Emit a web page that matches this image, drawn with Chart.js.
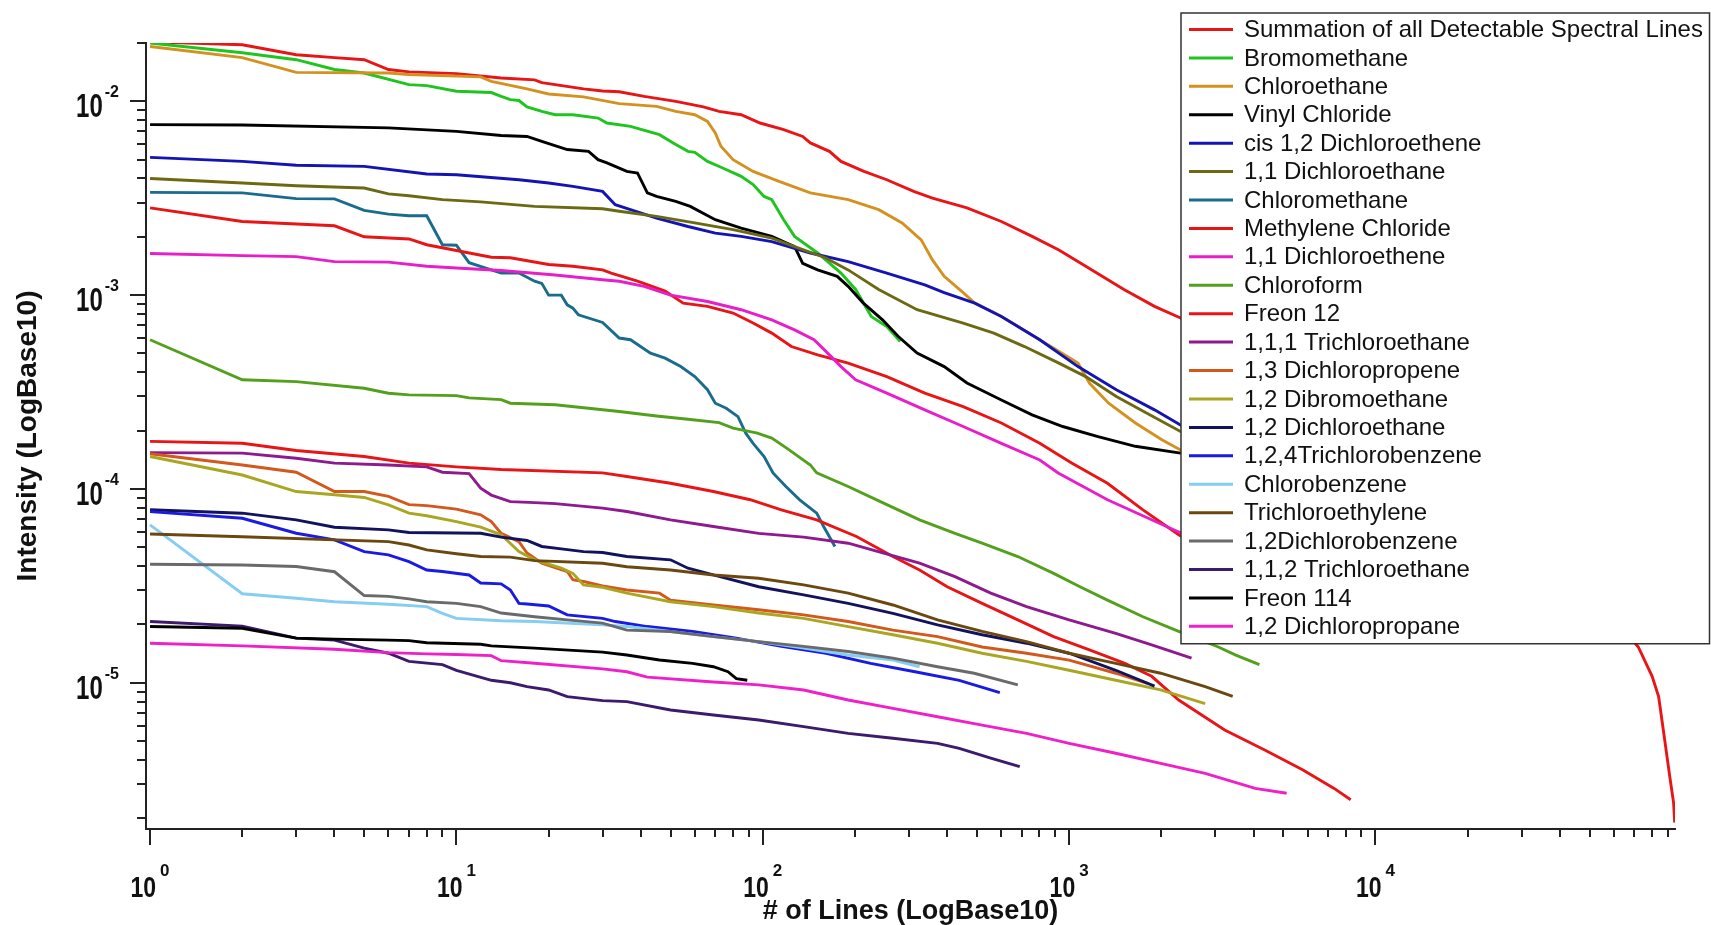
<!DOCTYPE html>
<html>
<head>
<meta charset="utf-8">
<script src="https://cdn.jsdelivr.net/npm/chart.js@4.4.1/dist/chart.umd.min.js"></script>
<style>
  html, body { margin: 0; padding: 0; background: #fff; }
  canvas { display: block; }
</style>
</head>
<body>
<canvas id="chart" width="1711" height="925"></canvas>
<script>
// --- Data: [number of lines, intensity] ---
const summation = [[1,0.0203],[2,0.0196],[3,0.0174],[4,0.0168],[5,0.0164],[6,0.0146],[7,0.0142],[10,0.0139],[14,0.0132],[18,0.0129],[19,0.0125],[26,0.0116],[30,0.0113],[34,0.0112],[41,0.0106],[52,0.0100],[64,0.00936],[72,0.00888],[85,0.00853],[98,0.00773],[117,0.00714],[135,0.00659],[143,0.0061],[165,0.00552],[180,0.0049],[214,0.00435],[254,0.00394],[311,0.00343],[358,0.00317],[464,0.00282],[601,0.0024],[757,0.00201],[926,0.00171],[1133,0.00141],[1510,0.00107],[1900,0.000875],[2311,0.000762],[5690,0.000344],[12070,0.000169],[25600,0.000069],[46800,0.000034],[72100,0.0000153],[80000,0.0000108],[84000,0.0000085],[87300,0.0000055],[91300,0.0000033],[94000,0.0000024],[94800,0.0000019]];
const bromomethane = [[1,0.02],[2,0.0178],[3,0.0164],[4,0.0146],[5,0.014],[7,0.0122],[8,0.01205],[10,0.01127],[13,0.0111],[14,0.0106],[15,0.0102],[16,0.0101],[17,0.00936],[19,0.00888],[21,0.00853],[24,0.00853],[29,0.0082],[31,0.00773],[37,0.00743],[46,0.00673],[51,0.0061],[57,0.00552],[60,0.00545],[66,0.0049],[74,0.00453],[85,0.0041],[93,0.00372],[101,0.00323],[107,0.00311],[117,0.00245],[127,0.00201],[151,0.00165],[180,0.0013],[201,0.00107],[226,0.000776],[254,0.000689],[281,0.000577]];
const chloroethane = [[1,0.0192],[2,0.0168],[3,0.0141],[6,0.014],[7,0.01375],[12,0.01337],[13,0.01268],[17,0.01159],[20,0.01091],[26,0.01054],[34,0.00973],[45,0.00942],[52,0.00888],[60,0.00853],[66,0.00788],[70,0.00687],[73,0.00586],[80,0.005],[93,0.00435],[113,0.00386],[143,0.00337],[190,0.00311],[239,0.00276],[285,0.00236],[329,0.00193],[358,0.00152],[391,0.00125],[451,0.00103],[492,0.00091],[602,0.000776],[802,0.000589],[1069,0.000446],[1166,0.000351],[1346,0.000277],[1646,0.000219],[2014,0.000179],[2311,0.000159],[2800,0.000145]];
const vinylChloride = [[1,0.00758],[2,0.00755],[6,0.0073],[10,0.007],[14,0.00667],[17,0.00659],[19,0.00622],[23,0.00564],[27,0.00552],[29,0.005],[31,0.00481],[36,0.00435],[39,0.00427],[42,0.00337],[45,0.00323],[52,0.00305],[58,0.00287],[70,0.00245],[85,0.00222],[107,0.00201],[127,0.00178],[135,0.00146],[151,0.00135],[175,0.00125],[190,0.00111],[213,0.00091],[246,0.000746],[277,0.000612],[319,0.000502],[391,0.000428],[464,0.000352],[601,0.000288],[757,0.000241],[953,0.00021],[1234,0.000187],[1645,0.000166],[2310,0.000153],[2600,0.00015]];
const cisDichloroethene = [[1,0.00514],[2,0.0049],[3,0.00468],[5,0.00462],[8,0.00422],[10,0.00418],[16,0.00394],[20,0.00379],[24,0.00364],[30,0.00343],[33,0.00293],[37,0.00276],[45,0.0025],[57,0.00226],[70,0.00209],[85,0.00201],[107,0.00189],[143,0.00165],[190,0.00149],[254,0.0013],[338,0.00113],[391,0.00103],[492,0.00091],[601,0.000776],[802,0.000589],[1069,0.000428],[1426,0.000325],[1900,0.000256],[2310,0.000214],[2800,0.00018]];
const dichloroethane11 = [[1,0.004],[2,0.00379],[3,0.00367],[5,0.00357],[6,0.00333],[7,0.00326],[9,0.00311],[12,0.00303],[18,0.00287],[30,0.00279],[34,0.00271],[45,0.00255],[60,0.00236],[80,0.00218],[107,0.00197],[127,0.00178],[160,0.00156],[190,0.00135],[239,0.00107],[319,0.000841],[451,0.000718],[568,0.000637],[715,0.000543],[926,0.000446],[1133,0.00038],[1426,0.0003],[1795,0.000246],[2310,0.000198],[2800,0.00018]];
const chloromethane = [[1,0.00339],[2,0.00337],[3,0.00315],[4,0.00314],[5,0.00274],[6,0.00262],[7,0.00257],[8,0.00257],[9,0.00182],[10,0.00181],[11,0.00147],[14,0.0013],[16,0.0013],[18,0.00118],[19,0.00115],[20,0.001],[22,0.001],[23,0.000891],[24,0.000857],[25,0.000792],[30,0.000723],[34,0.000601],[37,0.000589],[43,0.000502],[48,0.000473],[54,0.000428],[60,0.00038],[66,0.000325],[70,0.000277],[76,0.000261],[83,0.000236],[88,0.000194],[93,0.000172],[101,0.000147],[108,0.000121],[119,0.000103],[132,0.0000879],[150,0.000075],[158,0.000064],[172,0.0000505]];
const methyleneChloride = [[1,0.00282],[2,0.0024],[4,0.00228],[5,0.002],[7,0.00195],[8,0.00182],[10,0.0017],[13,0.00157],[15,0.00156],[20,0.00144],[24,0.00141],[30,0.00135],[32,0.0013],[39,0.00118],[48,0.00105],[55,0.00091],[66,0.000875],[80,0.000809],[93,0.000718],[107,0.000637],[124,0.000543],[151,0.000492],[190,0.000446],[254,0.00038],[338,0.000312],[451,0.000266],[601,0.000219],[802,0.000172],[1019,0.000136],[1334,0.000107],[1742,0.000078],[2279,0.000058],[2800,0.000048]];
const dichloroethene11 = [[1,0.00164],[2,0.0016],[3,0.00158],[4,0.00149],[6,0.00148],[8,0.00141],[10,0.00138],[14,0.00134],[21,0.00127],[30,0.0012],[34,0.00118],[41,0.00111],[50,0.001],[66,0.000927],[85,0.000841],[107,0.000746],[127,0.000662],[147,0.000589],[159,0.000522],[180,0.000428],[201,0.000366],[254,0.000312],[338,0.000256],[451,0.00021],[601,0.000172],[802,0.000141],[921,0.000121],[1334,0.000088],[2279,0.00006],[2600,0.000055]];
const chloroform = [[1,0.000589],[2,0.000366],[3,0.000358],[5,0.000331],[6,0.000312],[7,0.000306],[10,0.000303],[11,0.000295],[14,0.000289],[15,0.000277],[21,0.000272],[27,0.000261],[34,0.000251],[45,0.000238],[57,0.000229],[72,0.00022],[80,0.000206],[96,0.000194],[107,0.000183],[120,0.000162],[143,0.000133],[150,0.000121],[190,0.000103],[248,0.0000845],[325,0.0000693],[424,0.000059],[520,0.0000525],[680,0.0000448],[890,0.0000367],[1085,0.0000313],[1334,0.0000267],[1742,0.0000219],[2279,0.0000184],[3070,0.0000153],[3500,0.0000139],[4180,0.0000124]];
const freon12 = [[1,0.000176],[2,0.000172],[3,0.000158],[5,0.000147],[7,0.000136],[10,0.00013],[14,0.000126],[30,0.000121],[36,0.000116],[50,0.000107],[69,0.000097],[91,0.000088],[115,0.000078],[150,0.0000693],[203,0.0000567],[266,0.0000448],[325,0.0000382],[400,0.0000313],[520,0.0000257],[680,0.0000211],[890,0.0000173],[1165,0.0000148],[1520,0.0000126],[1860,0.0000108],[2279,0.00000815],[3220,0.0000057],[4350,0.0000045],[5800,0.00000355],[7330,0.00000285],[8300,0.00000249]];
const trichloroethane111 = [[1,0.000154],[2,0.000153],[3,0.000144],[4,0.000136],[6,0.000133],[8,0.00013],[9,0.000122],[11,0.00012],[12,0.000101],[13,0.000093],[15,0.000086],[18,0.000085],[21,0.000084],[30,0.0000796],[36,0.0000765],[50,0.0000693],[69,0.000064],[97,0.000059],[136,0.0000564],[190,0.0000525],[248,0.0000467],[325,0.0000414],[424,0.0000353],[555,0.000029],[726,0.0000247],[1000,0.0000211],[1420,0.000018],[1860,0.0000157],[2510,0.0000134]];
const dichloropropene13 = [[1,0.000152],[2,0.000133],[3,0.000122],[4,0.000097],[5,0.000097],[6,0.0000915],[7,0.000083],[8,0.000082],[10,0.0000787],[12,0.0000735],[13,0.0000679],[14,0.000059],[16,0.0000535],[17,0.0000467],[19,0.0000414],[23,0.0000375],[24,0.000034],[26,0.0000333],[30,0.0000316],[36,0.0000301],[46,0.000029],[50,0.0000267],[69,0.0000252],[97,0.0000238],[136,0.0000224],[190,0.0000207],[266,0.0000187],[372,0.0000173],[520,0.0000153],[726,0.0000142],[1000,0.0000131],[1420,0.0000112],[1800,0.00000993]];
const dibromoethane12 = [[1,0.000147],[2,0.000118],[3,0.000097],[4,0.0000933],[5,0.0000904],[6,0.0000828],[7,0.000075],[8,0.0000727],[10,0.0000679],[12,0.0000635],[14,0.000058],[16,0.0000475],[18,0.0000431],[22,0.000039],[24,0.0000367],[26,0.000032],[30,0.0000311],[36,0.000029],[50,0.0000262],[69,0.0000247],[97,0.0000229],[136,0.0000215],[190,0.0000195],[266,0.0000177],[372,0.000016],[520,0.0000142],[726,0.0000129],[1000,0.0000116],[1420,0.0000103],[1990,0.0000092],[2780,0.0000078]];
const dichloroethane12 = [[1,0.0000781],[2,0.000075],[3,0.0000693],[4,0.0000635],[6,0.0000615],[7,0.0000596],[12,0.0000591],[14,0.0000564],[17,0.0000542],[19,0.0000505],[22,0.0000491],[26,0.0000475],[30,0.000047],[36,0.0000448],[50,0.0000431],[57,0.000039],[69,0.000036],[97,0.0000313],[136,0.0000284],[190,0.0000257],[266,0.0000228],[372,0.0000199],[520,0.0000177],[726,0.000016],[1000,0.0000142],[1420,0.0000116],[1900,0.0000096]];
const trichlorobenzene124 = [[1,0.0000764],[2,0.0000706],[3,0.0000591],[4,0.0000546],[5,0.0000475],[6,0.0000457],[7,0.0000422],[8,0.0000382],[9,0.0000375],[11,0.000036],[12,0.0000327],[14,0.0000324],[15,0.0000301],[16,0.0000257],[17,0.0000255],[20,0.0000249],[23,0.0000224],[30,0.0000215],[33,0.0000207],[42,0.0000195],[59,0.0000184],[82,0.000017],[115,0.0000154],[161,0.0000142],[225,0.0000126],[314,0.0000114],[438,0.0000103],[594,0.0000089]];
const chlorobenzene = [[1,0.0000653],[2,0.0000288],[3,0.0000273],[4,0.0000262],[6,0.0000254],[8,0.0000247],[9,0.0000228],[10,0.0000215],[14,0.0000209],[18,0.0000207],[30,0.0000199],[36,0.0000195],[50,0.0000184],[69,0.0000173],[97,0.0000163],[136,0.0000151],[190,0.0000139],[266,0.0000131],[325,0.0000121]];
const trichloroethylene = [[1,0.0000586],[2,0.0000567],[6,0.0000535],[7,0.0000514],[8,0.0000485],[10,0.0000463],[12,0.0000448],[15,0.0000445],[18,0.0000427],[30,0.0000414],[36,0.0000397],[50,0.0000382],[69,0.000036],[97,0.0000346],[136,0.000032],[190,0.000029],[266,0.0000252],[372,0.0000211],[520,0.0000184],[726,0.0000163],[1000,0.0000142],[1420,0.0000126],[1990,0.0000112],[2780,0.00000955],[3420,0.0000085]];
const dichlorobenzene12 = [[1,0.0000409],[2,0.0000405],[3,0.0000398],[4,0.0000374],[5,0.0000282],[6,0.0000279],[7,0.0000271],[8,0.0000262],[10,0.0000257],[12,0.0000247],[14,0.0000229],[18,0.0000219],[23,0.0000211],[30,0.0000203],[36,0.0000187],[50,0.0000184],[69,0.0000173],[97,0.0000163],[136,0.0000154],[190,0.0000145],[266,0.0000134],[372,0.0000121],[490,0.0000112],[680,0.00000975]];
const trichloroethane112 = [[1,0.0000207],[2,0.0000196],[3,0.000017],[4,0.0000166],[5,0.0000151],[6,0.0000142],[7,0.0000129],[9,0.0000124],[10,0.0000116],[13,0.0000103],[15,0.00001],[17,0.00000955],[20,0.00000918],[23,0.00000848],[30,0.00000809],[36,0.00000799],[50,0.00000724],[69,0.00000682],[97,0.00000643],[136,0.00000594],[190,0.00000548],[266,0.00000517],[372,0.00000487],[438,0.00000459],[555,0.00000408],[690,0.00000369]];
const freon114 = [[1,0.0000195],[2,0.0000191],[3,0.000017],[4,0.0000168],[6,0.0000166],[7,0.0000165],[8,0.0000161],[12,0.0000158],[13,0.0000155],[18,0.0000151],[30,0.0000144],[36,0.0000139],[46,0.0000131],[59,0.0000126],[69,0.0000121],[77,0.0000114],[82,0.0000105],[89,0.0000103]];
const dichloropropane12 = [[1,0.000016],[2,0.0000155],[4,0.0000149],[6,0.0000143],[8,0.0000141],[10,0.000014],[13,0.0000138],[14,0.000013],[18,0.0000126],[30,0.0000118],[36,0.0000114],[42,0.0000107],[69,0.0000101],[97,0.00000975],[136,0.00000918],[190,0.00000815],[266,0.00000738],[372,0.00000668],[520,0.00000605],[726,0.00000548],[1000,0.00000487],[1420,0.00000433],[1990,0.00000384],[2780,0.00000341],[4050,0.00000285],[5130,0.00000269]];

const seriesNames = [
  "Summation of all Detectable Spectral Lines", "Bromomethane", "Chloroethane", "Vinyl Chloride",
  "cis 1,2 Dichloroethene", "1,1 Dichloroethane", "Chloromethane", "Methylene Chloride",
  "1,1 Dichloroethene", "Chloroform", "Freon 12", "1,1,1 Trichloroethane", "1,3 Dichloropropene",
  "1,2 Dibromoethane", "1,2 Dichloroethane", "1,2,4Trichlorobenzene", "Chlorobenzene",
  "Trichloroethylene", "1,2Dichlorobenzene", "1,1,2 Trichloroethane", "Freon 114", "1,2 Dichloropropane"
];
const seriesData = [
  summation, bromomethane, chloroethane, vinylChloride, cisDichloroethene, dichloroethane11,
  chloromethane, methyleneChloride, dichloroethene11, chloroform, freon12, trichloroethane111,
  dichloropropene13, dibromoethane12, dichloroethane12, trichlorobenzene124, chlorobenzene,
  trichloroethylene, dichlorobenzene12, trichloroethane112, freon114, dichloropropane12
];
const seriesColors = [
  "#e81416", "#1fc41f", "#d39220", "#000000", "#1414b4", "#6b6a12", "#1a6c8c", "#e81416",
  "#e81ec8", "#52a01c", "#e81416", "#8e1a8e", "#d2581c", "#aaa622", "#12125e", "#1a1ae4",
  "#86cdf2", "#6b4810", "#6a6a6a", "#3c1a6c", "#000000", "#f020c8"
];

// tick labels: powers of ten shown on each axis
const xTickExponents = [0, 1, 2, 3, 4];
const yTickExponents = [-2, -3, -4, -5];

const FONT = "'Liberation Sans', Arial, sans-serif";

// --- draws "10" with a raised exponent, "10" stretched tall like the original ---
function drawPower(ctx, exp, left, tenBase, expBase, tenSize, expSize, stretch, gap) {
  ctx.font = `bold ${tenSize}px ${FONT}`;
  const wTen = ctx.measureText("10").width;
  ctx.save();
  ctx.translate(left, tenBase);
  ctx.scale(1, stretch);
  ctx.fillText("10", 0, 0);
  ctx.restore();
  ctx.font = `bold ${expSize}px ${FONT}`;
  ctx.fillText(String(exp), left + wTen + gap, expBase);
}
function powerWidth(ctx, exp, tenSize, expSize, gap) {
  ctx.font = `bold ${tenSize}px ${FONT}`;
  const a = ctx.measureText("10").width;
  ctx.font = `bold ${expSize}px ${FONT}`;
  return a + gap + ctx.measureText(String(exp)).width;
}

const logAxes = {
  id: "logAxes",
  afterDraw(chart) {
    const { ctx, chartArea: area, scales: { x, y } } = chart;
    ctx.save();
    ctx.strokeStyle = "#222";
    ctx.fillStyle = "#111";
    ctx.lineWidth = 2;

    // tick marks (outside the plot)
    for (let e = -1; e <= 5; e++) {
      for (let m = 1; m <= 9; m++) {
        const v = m * Math.pow(10, e);
        if (v < x.min || v > x.max * 1.0001) continue;
        const px = Math.round(x.getPixelForValue(v));
        ctx.beginPath();
        ctx.moveTo(px, area.bottom);
        ctx.lineTo(px, area.bottom + (m === 1 ? 16 : 8));
        ctx.stroke();
      }
    }
    for (let e = -7; e <= -1; e++) {
      for (let m = 1; m <= 9; m++) {
        const v = m * Math.pow(10, e);
        if (v < y.min || v > y.max * 1.0001) continue;
        const py = Math.round(y.getPixelForValue(v));
        ctx.beginPath();
        ctx.moveTo(area.left, py);
        ctx.lineTo(area.left - (m === 1 ? 16 : 9), py);
        ctx.stroke();
      }
    }

    // tick labels
    ctx.textAlign = "left";
    ctx.textBaseline = "alphabetic";
    xTickExponents.forEach(exp => {
      const px = x.getPixelForValue(Math.pow(10, exp));
      const w = powerWidth(ctx, exp, 23, 17, 4);
      drawPower(ctx, exp, px - w / 2, area.bottom + 68, area.bottom + 47, 23, 17, 1.32, 4);
    });
    yTickExponents.forEach(exp => {
      const py = y.getPixelForValue(Math.pow(10, exp));
      const w = powerWidth(ctx, exp, 24, 16, 2);
      drawPower(ctx, exp, area.left - 27 - w, py + 16, py - 4, 24, 16, 1.38, 2);
    });
    ctx.restore();
  }
};

// --- boxed legend laid over the upper right corner ---
const legendBox = {
  id: "legendBox",
  afterDraw(chart) {
    const ctx = chart.ctx;
    const left = 1181, top = 13, right = 1709.5, rowH = 28.42;
    const bottom = top + 16.5 + rowH * chart.data.datasets.length - 11;
    ctx.save();
    ctx.fillStyle = "#fff";
    ctx.fillRect(left, top, right - left, bottom - top);
    ctx.strokeStyle = "#333";
    ctx.lineWidth = 1.5;
    ctx.strokeRect(left, top, right - left, bottom - top);
    ctx.font = `24px ${FONT}`;
    ctx.textBaseline = "middle";
    chart.data.datasets.forEach((ds, i) => {
      const cy = top + 16.5 + i * rowH;
      ctx.strokeStyle = ds.borderColor;
      ctx.lineWidth = 3;
      ctx.beginPath();
      ctx.moveTo(left + 8, cy);
      ctx.lineTo(left + 52, cy);
      ctx.stroke();
      ctx.fillStyle = "#111";
      ctx.fillText(ds.label, left + 63, cy + 1);
    });
    ctx.restore();
  }
};

const chart = new Chart(document.getElementById("chart"), {
  type: "line",
  data: {
    datasets: seriesNames.map((name, i) => ({
      label: name,
      data: seriesData[i],
      borderColor: seriesColors[i],
      backgroundColor: seriesColors[i],
      borderWidth: 2.9,
      pointRadius: 0,
      tension: 0,
      fill: false,
      order: -i
    }))
  },
  options: {
    responsive: false,
    animation: false,
    layout: { padding: { top: 43, right: 36, left: 0, bottom: 0 } },
    plugins: { legend: { display: false }, tooltip: { enabled: false } },
    scales: {
      x: {
        type: "logarithmic",
        min: 0.97,
        max: 95000,
        grid: { display: false },
        ticks: { display: false },
        border: { color: "#222", width: 2 },
        title: {
          display: true,
          text: "# of Lines (LogBase10)",
          color: "#111",
          font: { family: FONT, size: 27, weight: "bold", lineHeight: 1 },
          padding: { top: 0, bottom: 0 }
        },
        afterFit: s => { s.height = 96; }
      },
      y: {
        type: "logarithmic",
        min: 1.76e-6,
        max: 0.02,
        grid: { display: false },
        ticks: { display: false },
        border: { color: "#222", width: 2 },
        title: {
          display: true,
          text: "Intensity (LogBase10)",
          color: "#111",
          font: { family: FONT, size: 28, weight: "bold" },
          padding: { top: 11, bottom: 0 }
        },
        afterFit: s => { s.width = 146; }
      }
    }
  },
  plugins: [logAxes, legendBox]
});
</script>
</body>
</html>
